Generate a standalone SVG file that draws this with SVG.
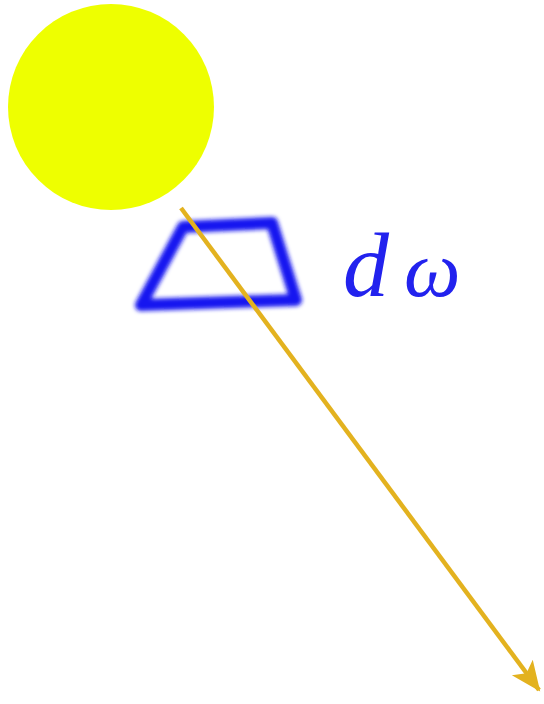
<svg xmlns="http://www.w3.org/2000/svg" width="544" height="704" viewBox="0 0 544 704">
<defs>
<filter id="blur" x="-20%" y="-20%" width="140%" height="140%"><feGaussianBlur stdDeviation="2"/></filter>
<marker id="arr" markerUnits="userSpaceOnUse" markerWidth="32" markerHeight="32" refX="28" refY="13" orient="auto" viewBox="0 0 32 26"><path d="M0,0 L30,13 L0,26 L7,13 Z" fill="#e3b21f"/></marker>
<style>
.lbl{font-family:"Liberation Serif","Times New Roman",serif;font-style:italic;fill:#2222ee;font-size:92px}
</style>
</defs>
<rect width="544" height="704" fill="#ffffff"/>
<g id="sun"><circle cx="111" cy="107" r="103" fill="#eeff00"/></g>
<g id="patch"><path d="M183,227 L272,223 L296,300 L141,305 Z" fill="none" stroke="#1818f0" stroke-width="12" stroke-linejoin="round" filter="url(#blur)"/></g>
<g id="connectors"><line x1="181" y1="208" x2="539" y2="690" stroke="#e3b21f" stroke-width="4.5" marker-end="url(#arr)"/></g>
<g id="label"><text class="lbl" x="343" y="296">d</text><text class="lbl" x="404" y="296" style="font-size:80px">ω</text></g>
</svg>
